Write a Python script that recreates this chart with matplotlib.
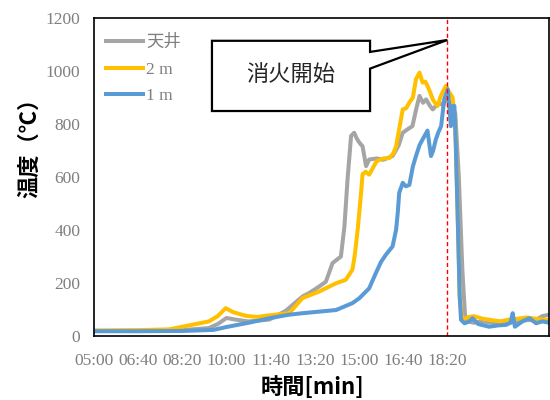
import matplotlib
matplotlib.use("Agg")
import matplotlib.pyplot as plt
from matplotlib.patches import Polygon
from matplotlib.ticker import FuncFormatter, MultipleLocator

# elapsed time [s] and temperature [degC] per thermocouple
t_ceiling = [300, 400, 500, 560, 580, 600, 620, 650, 697, 734, 772, 787, 810, 825, 840, 859,
             867, 874, 882, 889, 895, 901, 908, 916, 923, 940, 955, 976, 990, 999, 1010, 1021,
             1030, 1037, 1045, 1052, 1060, 1067, 1075, 1082, 1090, 1097, 1104, 1110, 1118, 1126,
             1134, 1140, 1146, 1160, 1180, 1200, 1220, 1240, 1260, 1280, 1300, 1315, 1330]
temp_ceiling = [20, 20, 22, 30, 45, 68, 62, 55, 62, 95, 149, 162, 187, 205, 275, 300,
                414, 590, 755, 767, 745, 729, 716, 641, 666, 670, 665, 679, 720, 767, 780, 792,
                860, 906, 880, 893, 870, 855, 870, 881, 870, 893, 880, 870, 840, 600,
                250, 80, 55, 50, 55, 50, 55, 50, 55, 60, 60, 75, 80]

t_2m = [300, 400, 470, 500, 530, 560, 580, 598, 615, 644, 670, 697, 742, 772, 810, 848,
        870, 885, 890, 897, 904, 908, 915, 923, 940, 955, 969, 978, 984, 992, 999, 1007,
        1014, 1022, 1029, 1037, 1044, 1050, 1055, 1061, 1067, 1072, 1078, 1084, 1089, 1097,
        1104, 1112, 1118, 1124, 1128, 1132, 1136, 1145, 1160, 1180, 1200, 1220, 1240, 1260,
        1280, 1300, 1330]
temp_2m = [20, 22, 25, 35, 45, 55, 75, 105, 90, 76, 72, 78, 86, 143, 168, 199,
           212, 250, 300, 401, 527, 610, 620, 609, 660, 670, 672, 690, 716, 790, 855, 860,
           881, 900, 969, 994, 956, 960, 944, 920, 893, 880, 868, 900, 919, 944,
           920, 900, 800, 420, 150, 80, 62, 70, 75, 65, 60, 55, 62, 65, 70, 65, 60]

t_1m = [300, 400, 500, 570, 600, 650, 697, 740, 772, 810, 848, 885, 901, 923, 938, 950,
        961, 976, 984, 988, 991, 999, 1006, 1014, 1022, 1029, 1037, 1044, 1050, 1055,
        1063, 1068, 1074, 1080, 1086, 1093, 1101, 1105, 1108, 1112, 1116, 1119, 1123, 1128,
        1131, 1139, 1150, 1157, 1170, 1195, 1215, 1233, 1243, 1248, 1253, 1270, 1286, 1301,
        1315, 1331]
temp_1m = [18, 18, 19, 23, 34, 50, 67, 80, 86, 92, 98, 124, 143, 180, 237, 280,
           307, 338, 401, 470, 540, 578, 565, 570, 640, 679, 720, 742, 760, 775,
           679, 700, 742, 770, 792, 893, 931, 860, 792, 868, 868, 729, 480, 150,
           61, 48, 55, 67, 45, 35, 40, 42, 50, 86, 35, 55, 67, 48,
           55, 50]

fire_start = 1100  # 18:20, extinguishing started
x_ticks = [300, 400, 500, 600, 700, 800, 900, 1000, 1100]

GRAY = "#A5A5A5"
YELLOW = "#FFC000"
BLUE = "#5B9BD5"
serif = ["Liberation Serif", "Noto Sans CJK JP"]
gothic = ["Noto Sans CJK JP", "DejaVu Sans"]

fig = plt.figure(figsize=(5.5, 4.0), dpi=100)
ax = fig.add_axes([0.171, 0.16, 0.827, 0.795])

ax.plot(t_ceiling, temp_ceiling, color=GRAY, lw=2.9, label="天井", solid_joinstyle="round")
ax.plot(t_2m, temp_2m, color=YELLOW, lw=2.9, label="2 m", solid_joinstyle="round")
ax.plot(t_1m, temp_1m, color=BLUE, lw=2.9, label="1 m", solid_joinstyle="round")

ax.axvline(fire_start, color="red", lw=1.0, linestyle=(0, (3, 2)))

# callout box pointing at the extinguishing line
bx0, bx1, by0, by1 = 567, 925, 849, 1114
callout = Polygon([(bx0, by1), (bx1, by1), (bx1, 1072), (fire_start, 1117),
                   (bx1, 1009), (bx1, by0), (bx0, by0)],
                  closed=True, facecolor="white", edgecolor="black", lw=1.6, zorder=5)
ax.add_patch(callout)
ax.text((bx0 + bx1) / 2, (by0 + by1) / 2, "消火開始", ha="center", va="center",
        fontsize=16, family=gothic, color="#262626", zorder=6)

ax.set_xlim(300, 1330)
ax.set_ylim(0, 1200)
ax.set_xticks(x_ticks)
ax.xaxis.set_major_formatter(FuncFormatter(lambda v, p: "%02d:%02d" % (int(v) // 60, int(v) % 60)))
ax.yaxis.set_major_locator(MultipleLocator(200))
ax.tick_params(length=0, labelsize=12.5, labelcolor="#7F7F7F")
ax.tick_params(axis="y", pad=10)
ax.tick_params(axis="x", pad=12)
for lab in ax.get_xticklabels() + ax.get_yticklabels():
    lab.set_family(serif)

for s in ax.spines.values():
    s.set_color("black")
    s.set_linewidth(1.2)

ax.set_ylabel("温度（℃）", fontsize=16, fontweight="bold", family=gothic)
ax.yaxis.set_label_coords(-0.117, 0.61)
ax.set_xlabel("時間[min]", fontsize=16, fontweight="bold", family=gothic)
ax.xaxis.set_label_coords(0.48, -0.125)

leg = ax.legend(loc="upper left", bbox_to_anchor=(0.0, 0.985), frameon=False,
                prop={"family": serif, "size": 12.5}, handlelength=2.1,
                handletextpad=0.2, labelspacing=0.6, borderaxespad=0.3)
for txt in leg.get_texts():
    txt.set_color("#7F7F7F")

fig.savefig("out.png", dpi=100)
